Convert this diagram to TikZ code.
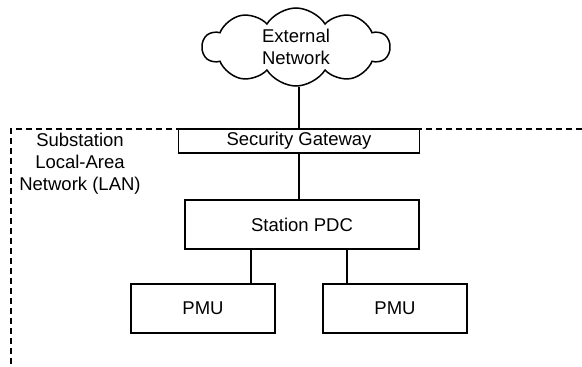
\documentclass[tikz,border=0pt]{standalone}
\usepackage{fontspec}
\setmainfont{Liberation Sans}
\usetikzlibrary{shapes.symbols}
\tikzset{
  lbl/.style={font=\fontsize{18.5}{22}\selectfont, align=center, inner sep=0pt},
  boxnode/.style={lbl, draw, line width=1.7pt, rectangle, fill=white},
  wire/.style={line width=1.7pt},
  lanline/.style={line width=1.5pt, dash pattern=on 6pt off 4pt},
}
\begin{document}
\begin{tikzpicture}[x=1pt,y=-1pt]
\useasboundingbox (0,0) rectangle (582,367);
% LAN boundary
\coordinate (lanR) at (582,129);
\coordinate (lanC) at (11,129);
\coordinate (lanB) at (11,366);
\draw[lanline] (lanR) -- (lanC) -- (lanB);
% nodes
\node[cloud, draw, line width=1.5pt, cloud puffs=10, cloud puff arc=115, aspect=2.4,
      minimum width=187pt, minimum height=78pt, inner sep=0pt, lbl]
      (cloud) at (296,47) {External\\Network};
\node[boxnode, minimum width=241pt, minimum height=23.5pt] (gw) at (299,141) {Security Gateway};
\node[boxnode, minimum width=234pt, minimum height=48.5pt] (pdc) at (302,224.5) {Station PDC};
\node[boxnode, minimum width=144pt, minimum height=48.5pt] (pmu1) at (203,308.5) {PMU};
\node[boxnode, minimum width=144pt, minimum height=48.5pt] (pmu2) at (395,308.5) {PMU};
\node[lbl] (lan) at (80,164) {Substation\\Local-Area\\Network (LAN)};
% connectors
\draw[wire] (gw.north) -- (gw.north |- cloud.south);
\draw[wire] (gw.south) -- (gw.south |- pdc.north);
\coordinate (d1) at ([xshift=-51pt]pdc.south);
\coordinate (d2) at ([xshift=45pt]pdc.south);
\draw[wire] (d1) -- (d1 |- pmu1.north);
\draw[wire] (d2) -- (d2 |- pmu2.north);
\end{tikzpicture}
\end{document}
